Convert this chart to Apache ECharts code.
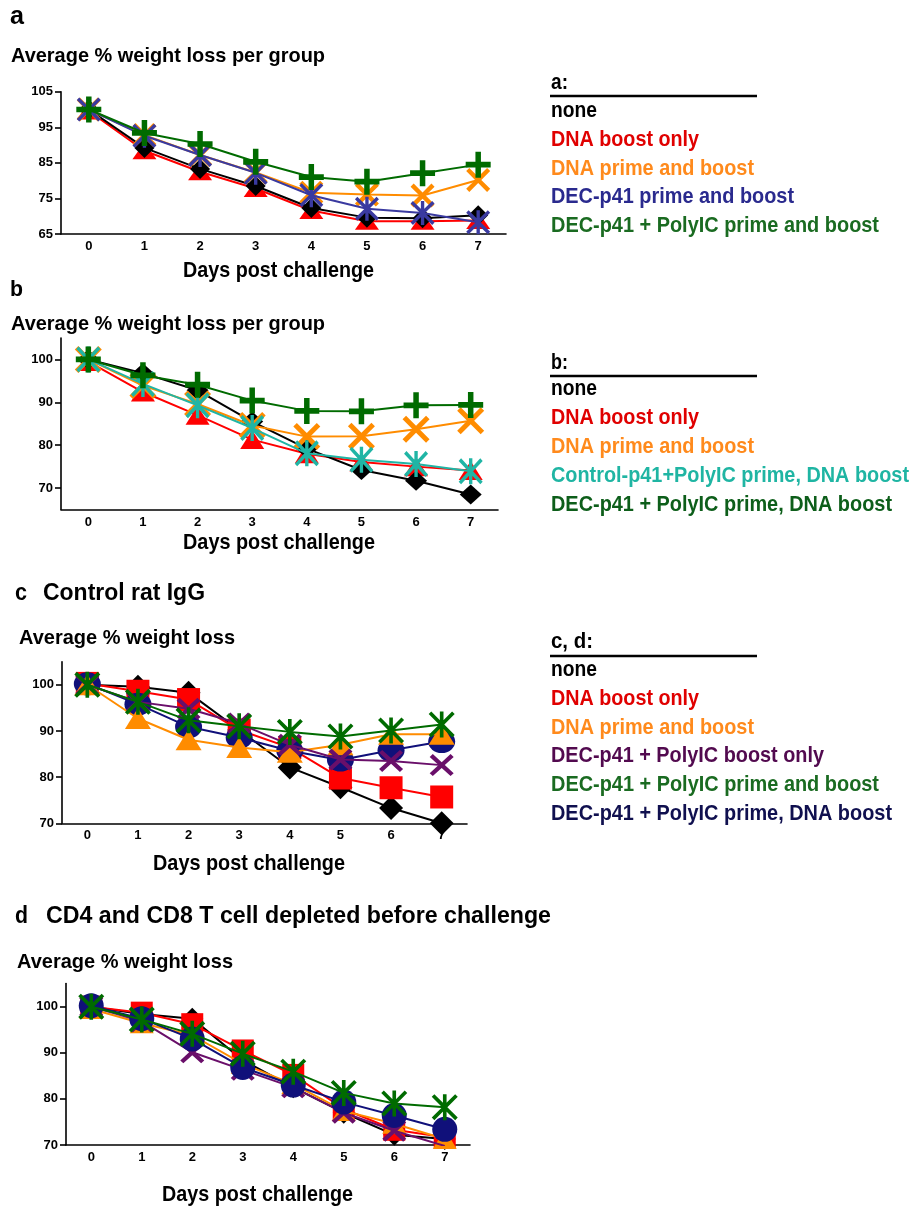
<!DOCTYPE html>
<html><head><meta charset="utf-8">
<script src="https://cdn.jsdelivr.net/npm/echarts@6/dist/echarts.min.js"></script>
<style>html,body{margin:0;padding:0;background:#fff}#c{width:915px;height:1208px}</style>
</head><body><div id="c"></div>
<script>
// ---------- data ----------
const days = ['0','1','2','3','4','5','6','7'];

// panel a
const aNone      = [100, 89.2, 83.3, 78.5, 72.3, 69.6, 69.4, 70.3];
const aDnaBoost  = [99.6, 88.4, 82.5, 77.8, 71.6, 68.6, 68.6, 68.8];
const aDnaPrime  = [100, 92.8, 87.2, 82.3, 76.6, 76.1, 75.8, 80.2];
const aDecPrime  = [100, 92.6, 87.2, 82.2, 75.9, 72.1, 70.9, 68.3];
const aDecPoly   = [100, 93.4, 90.3, 85.3, 81.0, 79.7, 82.1, 84.5];
const aTicks     = [65, 75, 85, 95, 105];

// panel b
const bNone      = [100, 96.8, 92.8, 85.5, 79.2, 74.2, 71.7, 68.5];
const bDnaBoost  = [99.5, 92.4, 87.0, 81.3, 78.0, 76.1, 75.0, 74.1];
const bDnaPrime  = [100, 93.9, 89.6, 84.6, 82.0, 82.1, 83.7, 85.7];
const bControl   = [100, 94.3, 89.3, 84.0, 78.1, 76.6, 75.6, 73.9];
const bDecPoly   = [100, 96.3, 94.1, 90.4, 88.0, 87.9, 89.3, 89.4];
const bTicks     = [70, 80, 90, 100];

// panel c
const cNone      = [100, 99.6, 98.3, 90.2, 82.1, 77.8, 73.3, 70.0];
const cDnaBoost  = [100.3, 98.6, 96.8, 90.2, 86.4, 79.8, 77.7, 75.7];
const cDnaPrime  = [100, 92.7, 88.1, 86.4, 85.4, 87.0, 89.3, 89.3];
const cDecBoost  = [100, 96.3, 94.8, 91.6, 87.0, 83.8, 83.5, 82.6];
const cDecPrime  = [100, 96.3, 92.3, 91.0, 89.8, 88.8, 90.1, 91.4];
const cDecDna    = [100.2, 95.8, 90.9, 88.6, 85.7, 83.7, 85.8, 87.7];
const cTicks     = [70, 80, 90, 100];

// panel d
const dNone      = [100, 98.4, 97.4, 88.4, 82.5, 77.0, 72.2, 71.3];
const dDnaBoost  = [100, 98.7, 96.2, 90.5, 85.2, 77.8, 73.3, 71.7];
const dDnaPrime  = [99.5, 96.4, 93.8, 87.6, 83.2, 77.4, 74.6, 71.3];
const dDecBoost  = [100, 96.8, 90.1, 86.3, 82.5, 77.0, 73.1, 69.8];
const dDecPrime  = [100, 97.2, 94.1, 89.8, 85.9, 81.3, 79.0, 78.2];
const dDecDna    = [100.2, 97.4, 93.0, 86.8, 83.0, 79.3, 76.4, 73.4];
const dTicks     = [70, 80, 90, 100];

// legend labels
const legA  = ['none', 'DNA boost only', 'DNA prime and boost', 'DEC-p41 prime and boost', 'DEC-p41 + PolyIC prime and boost'];
const legB  = ['none', 'DNA boost only', 'DNA prime and boost', 'Control-p41+PolyIC prime, DNA boost', 'DEC-p41 + PolyIC prime, DNA boost'];
const legCD = ['none', 'DNA boost only', 'DNA prime and boost', 'DEC-p41 + PolyIC boost only', 'DEC-p41 + PolyIC prime and boost', 'DEC-p41 + PolyIC prime, DNA boost'];

// ---------- styling ----------
const FONT = '"Liberation Sans", Arial, sans-serif';
const C = {black:'#000000', red:'#ff0000', orange:'#ff8c00', blue:'#3a3aa0', green:'#006b00',
           teal:'#20b5a5', purple:'#6a0f6a', navy:'#10107a'};
const SYM = {
  x: 'path://M0,13 L13,0 L50,37 L87,0 L100,13 L63,50 L100,87 L87,100 L50,63 L13,100 L0,87 L37,50 Z',
  plus: 'path://M39,0 H61 V39 H100 V61 H61 V100 H39 V61 H0 V39 H39 Z',
  star: 'path://M0,10 L10,0 L50,40 L90,0 L100,10 L60,50 L100,90 L90,100 L50,60 L10,100 L0,90 L40,50 Z M43,0 H57 V100 H43 Z'
};

const grids = [
  {left:61, top:91.7, width:445, height:142.3},
  {left:61, top:338, width:437, height:171.5},
  {left:62, top:661.7, width:405, height:161.6},
  {left:66, top:983.6, width:404, height:161.4}
];
const yRanges = [[65,105,aTicks],[65,105,bTicks],[70,105,cTicks],[70,105,dTicks]];

const panels = [
  [ // a
    {n:legA[1], d:aDnaBoost, c:C.red, s:'triangle', z:[24,17]},
    {n:legA[0], d:aNone, c:C.black, s:'diamond', z:[20,20]},
    {n:legA[2], d:aDnaPrime, c:C.orange, s:SYM.x, z:[24,24]},
    {n:legA[3], d:aDecPrime, c:C.blue, s:SYM.star, z:[24,24]},
    {n:legA[4], d:aDecPoly, c:C.green, s:SYM.plus, z:[25,26]}
  ],
  [ // b
    {n:legB[1], d:bDnaBoost, c:C.red, s:'triangle', z:[24,19]},
    {n:legB[0], d:bNone, c:C.black, s:'diamond', z:[22,20]},
    {n:legB[2], d:bDnaPrime, c:C.orange, s:SYM.x, z:[27,27]},
    {n:legB[3], d:bControl, c:C.teal, s:SYM.star, z:[24,26]},
    {n:legB[4], d:bDecPoly, c:C.green, s:SYM.plus, z:[25,26]}
  ],
  [ // c
    {n:legCD[0], d:cNone, c:C.black, s:'diamond', z:[24,24]},
    {n:legCD[1], d:cDnaBoost, c:C.red, s:'rect', z:[23,23]},
    {n:legCD[5], d:cDecDna, c:C.navy, s:'circle', z:[27,23]},
    {n:legCD[2], d:cDnaPrime, c:C.orange, s:'triangle', z:[26,21]},
    {n:legCD[3], d:cDecBoost, c:C.purple, s:SYM.x, z:[24,22]},
    {n:legCD[4], d:cDecPrime, c:C.green, s:SYM.star, z:[26,26]}
  ],
  [ // d
    {n:legCD[0], d:dNone, c:C.black, s:'diamond', z:[22,22]},
    {n:legCD[1], d:dDnaBoost, c:C.red, s:'rect', z:[22,22]},
    {n:legCD[2], d:dDnaPrime, c:C.orange, s:'triangle', z:[24,20]},
    {n:legCD[3], d:dDecBoost, c:C.purple, s:SYM.x, z:[24,22]},
    {n:legCD[5], d:dDecDna, c:C.navy, s:'circle', z:[25,25]},
    {n:legCD[4], d:dDecPrime, c:C.green, s:SYM.star, z:[26,26]}
  ]
];

const axisTxt = {fontFamily:FONT, fontWeight:'bold', fontSize:13, color:'#000'};
const xAxis = [], yAxis = [], series = [];
grids.forEach((g, i) => {
  xAxis.push({type:'category', gridIndex:i, data:days, boundaryGap:true,
    axisLine:{lineStyle:{color:'#000', width:1.6}},
    axisTick:{length:8, lineStyle:{color:'#000', width:1.6}},
    axisLabel:Object.assign({margin:6}, axisTxt), splitLine:{show:false}});
  const [mn, mx, tk] = yRanges[i];
  yAxis.push({type:'value', gridIndex:i, min:mn, max:mx, interval:5,
    axisLine:{show:true, lineStyle:{color:'#000', width:1.6}},
    axisTick:{show:true, length:6, customValues:tk, lineStyle:{color:'#000', width:1.6}},
    axisLabel:Object.assign({margin:8, customValues:tk}, axisTxt), splitLine:{show:false}});
  panels[i].forEach((p, k) => {
    series.push({type:'line', name:p.n, xAxisIndex:i, yAxisIndex:i, data:p.d, z:2+k,
      symbol:p.s, symbolSize:p.z, showSymbol:true, showAllSymbol:true,
      lineStyle:{color:p.c, width:2}, itemStyle:{color:p.c, borderWidth:0},
      emphasis:{disabled:true}, animation:false});
  });
});

// ---------- texts ----------
const mctx = document.createElement('canvas').getContext('2d');
function txt(s, x, base, F, w, color){
  const font = 'bold ' + F + 'px ' + FONT;
  mctx.font = font;
  const m = mctx.measureText(s).width;
  return {type:'text', x:x, y:base - 0.3465*F, scaleX:w/m, silent:true,
    style:{text:s, font:font, fill:color || '#000', verticalAlign:'middle', align:'left'}};
}
function uline(x1, x2, y){
  return {type:'line', silent:true, shape:{x1:x1, y1:y, x2:x2, y2:y}, style:{stroke:'#000', lineWidth:2.5}};
}
const LC = {none:'#000000', red:'#e00000', orange:'#ff8a1c', blue:'#2a2a8e', green:'#1a6b21',
            teal:'#1fb5a3', dgreen:'#0d5e1a', purple:'#520a4f', navy:'#10104f'};
const g = [
  txt('a', 10, 26, 26, 14),
  txt('Average % weight loss per group', 11, 63, 21, 314),
  txt('Days post challenge', 183, 279, 22, 191),
  txt('b', 10, 298, 22, 13),
  txt('Average % weight loss per group', 11, 331, 21, 314),
  txt('Days post challenge', 183, 551, 22, 192),
  txt('c', 15, 602, 24, 12),
  txt('Control rat IgG', 43, 602, 24, 162),
  txt('Average % weight loss', 19, 645, 21, 216),
  txt('Days post challenge', 153, 872, 22, 192),
  txt('d', 15, 925, 24, 13),
  txt('CD4 and CD8 T cell depleted before challenge', 46, 925, 24, 505),
  txt('Average % weight loss', 17, 969, 21, 216),
  txt('Days post challenge', 162, 1203, 22, 191),
  // legend a
  txt('a:', 551, 91, 22, 17), uline(550, 757, 96),
  txt(legA[0], 551, 119, 22, 46, LC.none),
  txt(legA[1], 551, 148, 22, 148, LC.red),
  txt(legA[2], 551, 176.5, 22, 203, LC.orange),
  txt(legA[3], 551, 205, 22, 243, LC.blue),
  txt(legA[4], 551, 233.7, 22, 328, LC.green),
  // legend b
  txt('b:', 551, 371, 22, 17), uline(550, 757, 376),
  txt(legB[0], 551, 396.5, 22, 46, LC.none),
  txt(legB[1], 551, 426, 22, 148, LC.red),
  txt(legB[2], 551, 454.5, 22, 203, LC.orange),
  txt(legB[3], 551, 483.5, 22, 358, LC.teal),
  txt(legB[4], 551, 512.5, 22, 341, LC.dgreen),
  // legend c, d
  txt('c, d:', 551, 650, 22, 42), uline(550, 757, 656),
  txt(legCD[0], 551, 677.5, 22, 46, LC.none),
  txt(legCD[1], 551, 706.5, 22, 148, LC.red),
  txt(legCD[2], 551, 735.2, 22, 203, LC.orange),
  txt(legCD[3], 551, 764, 22, 273, LC.purple),
  txt(legCD[4], 551, 793, 22, 328, LC.green),
  txt(legCD[5], 551, 821.8, 22, 341, LC.navy)
];

const chart = echarts.init(document.getElementById('c'), null, {renderer:'canvas'});
chart.setOption({
  animation:false,
  backgroundColor:'#fff',
  grid:grids.map(g0 => Object.assign({containLabel:false}, g0)),
  xAxis:xAxis, yAxis:yAxis, series:series,
  graphic:g
});
</script></body></html>
